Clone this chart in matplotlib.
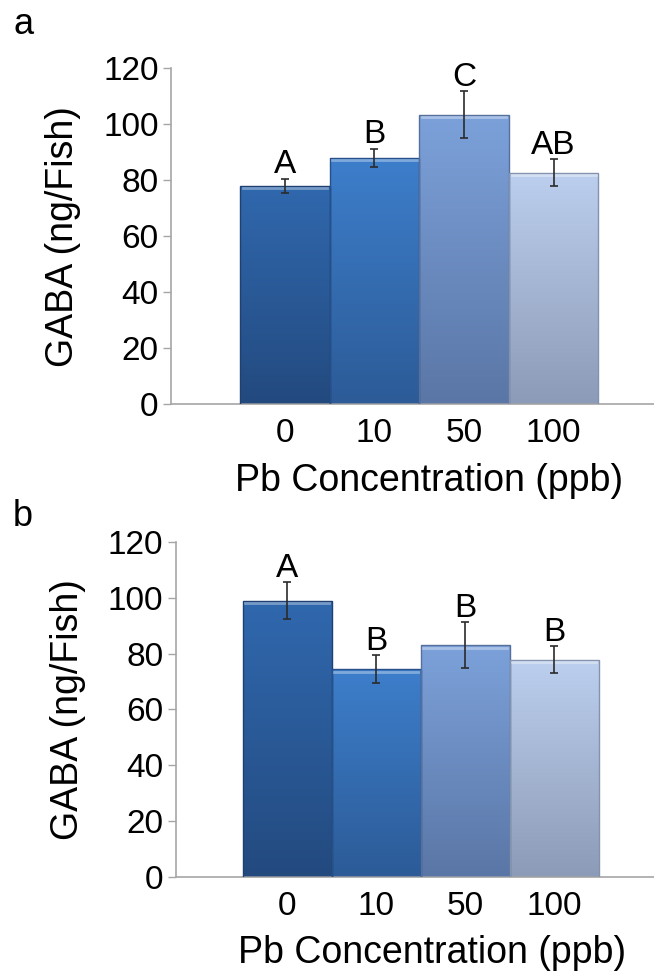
import matplotlib
matplotlib.use('Agg')
import matplotlib.pyplot as plt
import numpy as np
from matplotlib.colors import LinearSegmentedColormap

plt.rcParams['font.family'] = ['Liberation Sans', 'DejaVu Sans']

# Data
konsentrasi = ['0', '10', '50', '100']
gaba_a = [78.0, 88.0, 103.5, 82.8]
err_a = [2.5, 3.3, 8.3, 4.7]
huruf_a = ['A', 'B', 'C', 'AB']
gaba_b = [99.0, 74.5, 83.0, 77.8]
err_b = [6.7, 5.0, 8.3, 4.8]
huruf_b = ['A', 'B', 'B', 'B']

# warna gradien (atas -> bawah) tiap batang
warna = [('#3068ae', '#234a7f'),
         ('#3d7ecb', '#2c5b97'),
         ('#7ca1da', '#5a76a6'),
         ('#bccfee', '#8c9bb7')]
tepi = ['#1f4070', '#26508a', '#56709d', '#8393ad']
abu = '#a6a6a6'


def gambar_panel(ax, nilai, galat, huruf, kiri):
    x = np.arange(1, len(nilai) + 1)
    bars = ax.bar(x, nilai, width=1.0, color='none', edgecolor='none', zorder=2)
    for i, b in enumerate(bars):
        cmap = LinearSegmentedColormap.from_list('g%d' % i, [warna[i][1], warna[i][0]])
        grad = np.linspace(0, 1, 256).reshape(-1, 1)
        x0 = b.get_x()
        im = ax.imshow(grad, cmap=cmap, origin='lower', aspect='auto',
                       extent=(x0, x0 + b.get_width(), 0, b.get_height()), zorder=2)
        im.set_clip_path(b)
        # tepi dan kilau atas
        ax.add_patch(plt.Rectangle((x0, 0), b.get_width(), b.get_height(), fill=False,
                                   edgecolor=tepi[i], linewidth=1.0, zorder=3))
        ax.plot([x0 + 0.03, x0 + b.get_width() - 0.03], [b.get_height() - 0.9] * 2,
                color='white', alpha=0.35, linewidth=2.0, zorder=3)
    ax.errorbar(x, nilai, yerr=galat, fmt='none', ecolor='#2b2b2b', elinewidth=1.2,
                capsize=3, capthick=1.2, zorder=4)
    for xi, v, e, h in zip(x, nilai, galat, huruf):
        ax.text(xi, v + e + 2.0, h, ha='center', va='baseline', fontsize=24, zorder=5)

    ax.set_xlim(kiri, 5.12)
    ax.set_ylim(0, 120)
    ax.set_yticks(range(0, 121, 20))
    ax.set_xticks(x)
    ax.set_xticklabels(konsentrasi)
    ax.tick_params(axis='x', length=0, pad=10, labelsize=24)
    ax.tick_params(axis='y', length=6, width=1.0, color=abu, pad=3, labelsize=24)
    for s in ['top', 'right']:
        ax.spines[s].set_visible(False)
    for s in ['left', 'bottom']:
        ax.spines[s].set_color(abu)
        ax.spines[s].set_linewidth(1.2)
    ax.set_ylabel('GABA (ng/Fish)', fontsize=27, labelpad=16)
    ax.set_xlabel('Pb Concentration (ppb)', fontsize=27, labelpad=10, x=0.535)


fig = plt.figure(figsize=(6.54, 9.73), dpi=100)
ax1 = fig.add_axes([0.2615, 0.5848, 0.7385, 0.3448])
ax2 = fig.add_axes([0.2690, 0.0990, 0.7310, 0.3437])

gambar_panel(ax1, gaba_a, err_a, huruf_a, -0.27)
gambar_panel(ax2, gaba_b, err_b, huruf_b, -0.25)

fig.text(0.036, 0.975, 'a', fontsize=26, ha='center', va='center')
fig.text(0.034, 0.469, 'b', fontsize=26, ha='center', va='center')

fig.savefig('out.png', dpi=100)
